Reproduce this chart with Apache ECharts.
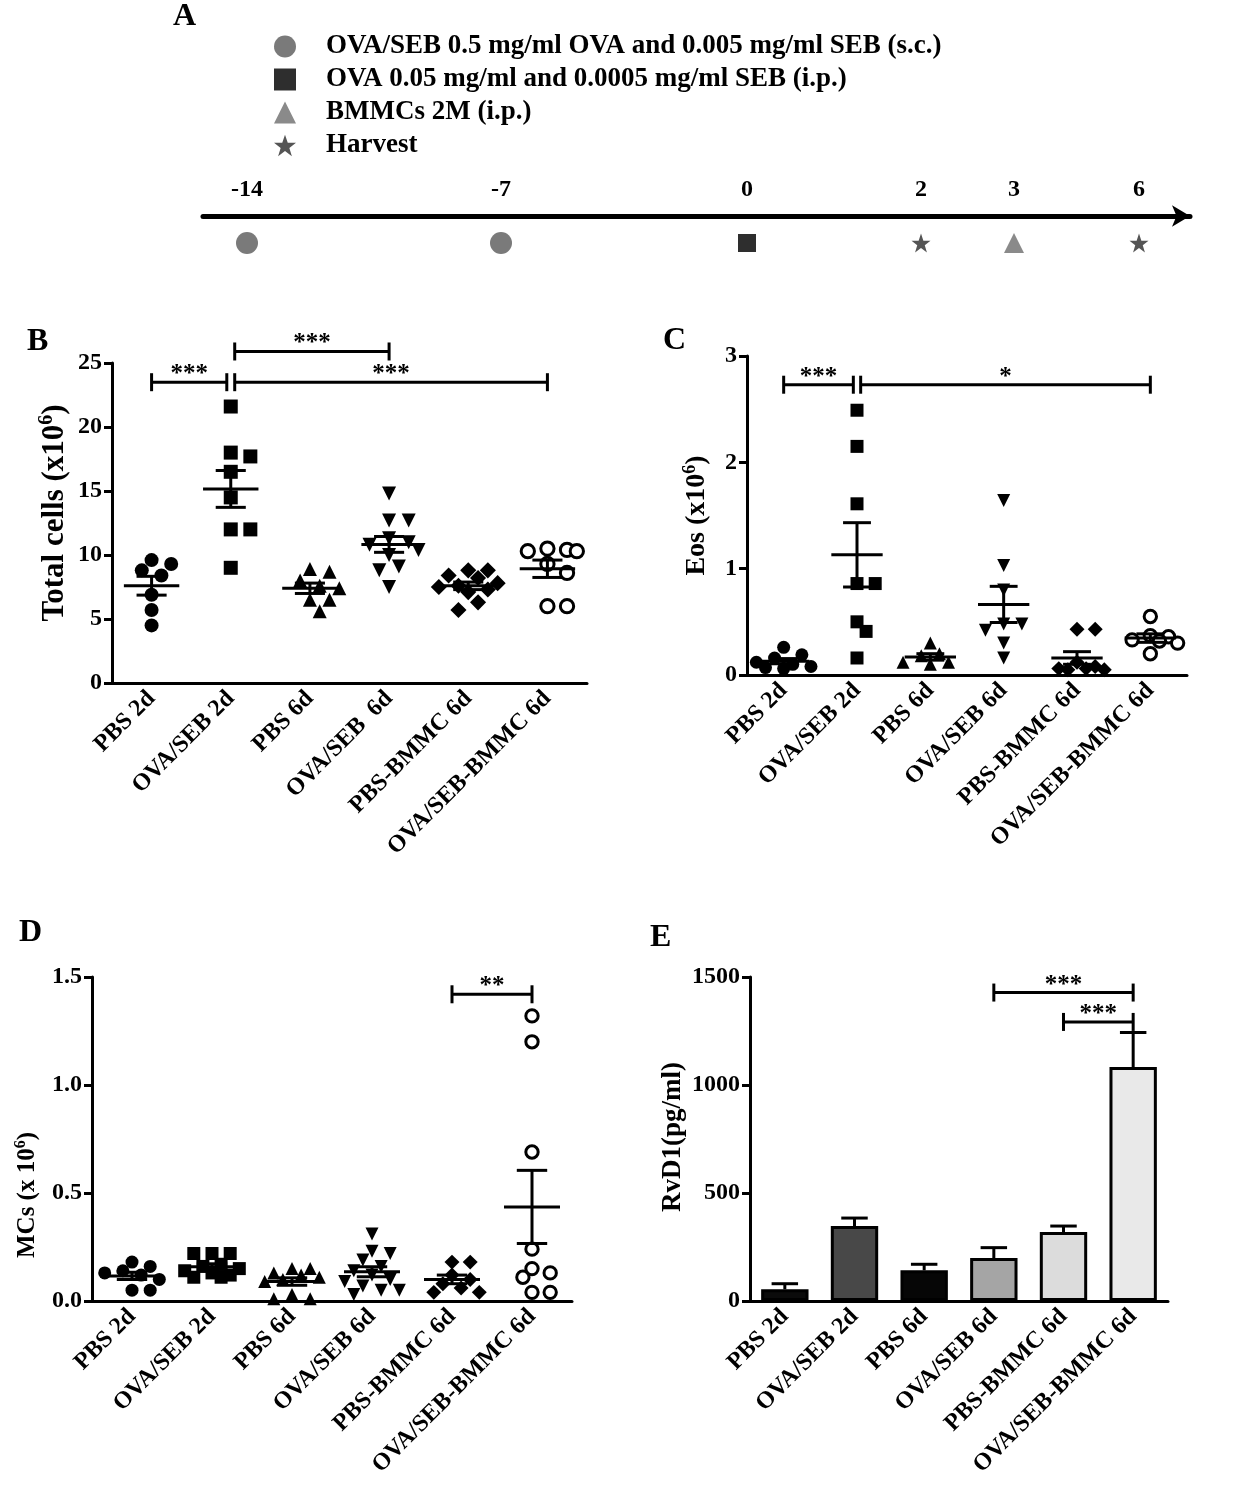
<!DOCTYPE html>
<html><head><meta charset="utf-8">
<script src="https://cdn.jsdelivr.net/npm/echarts@6/dist/echarts.min.js"></script>
<style>html,body{margin:0;padding:0;background:#fff}#c{width:1252px;height:1500px}</style>
</head><body><div id="c"></div>
<script>
// ---------------- DATA ----------------
const groups = ['PBS 2d', 'OVA/SEB 2d', 'PBS 6d', 'OVA/SEB 6d', 'PBS-BMMC 6d', 'OVA/SEB-BMMC 6d'];
const groupsB = ['PBS 2d', 'OVA/SEB 2d', 'PBS 6d', 'OVA/SEB  6d', 'PBS-BMMC 6d', 'OVA/SEB-BMMC 6d'];

// Panel B: Total cells (x10^6)
const totalPBS2d = [9.6, 9.3, 8.8, 8.4, 6.9, 5.7, 4.5];
const totalOVA2d = [21.6, 18.0, 17.7, 16.5, 14.5, 12.0, 12.0, 9.0];
const totalPBS6d = [8.9, 8.7, 8.0, 7.6, 7.4, 6.5, 6.5, 5.6];
const totalOVA6d = [14.8, 12.7, 12.7, 11.3, 11.0, 10.8, 10.4, 10.0, 9.1, 8.8, 7.5];
const totalPBSBMMC = [8.8, 8.8, 8.4, 8.2, 7.8, 7.6, 7.5, 7.3, 7.1, 6.3, 5.7];
const totalOVABMMC = [10.5, 10.4, 10.3, 10.3, 9.3, 8.6, 6.0, 6.0];

// Panel C: Eos (x10^6)
const eosPBS2d = [0.26, 0.19, 0.16, 0.12, 0.10, 0.08, 0.07, 0.06];
const eosOVA2d = [2.49, 2.15, 1.61, 0.86, 0.86, 0.50, 0.41, 0.16];
const eosPBS6d = [0.30, 0.20, 0.18, 0.12, 0.10, 0.12];
const eosOVA6d = [1.64, 1.03, 0.80, 0.48, 0.48, 0.42, 0.30, 0.16];
const eosPBSBMMC = [0.43, 0.43, 0.12, 0.08, 0.06, 0.05, 0.05, 0.06];
const eosOVABMMC = [0.55, 0.37, 0.36, 0.33, 0.32, 0.30, 0.20];

// Panel D: MCs (x10^6)
const mcsPBS2d = [0.18, 0.16, 0.14, 0.13, 0.12, 0.10, 0.05, 0.05];
const mcsOVA2d = [0.22, 0.22, 0.22, 0.17, 0.16, 0.15, 0.14, 0.13, 0.12, 0.11, 0.11];
const mcsPBS6d = [0.15, 0.15, 0.13, 0.12, 0.11, 0.10, 0.09, 0.03, 0.01, 0.01];
const mcsOVA6d = [0.31, 0.23, 0.22, 0.19, 0.16, 0.14, 0.12, 0.10, 0.09, 0.07, 0.05, 0.05, 0.03];
const mcsPBSBMMC = [0.18, 0.18, 0.12, 0.10, 0.08, 0.06, 0.04, 0.04];
const mcsOVABMMC = [1.32, 1.20, 0.69, 0.24, 0.15, 0.13, 0.11, 0.04, 0.04];

// Panel E: RvD1 (pg/ml), mean and SEM
const rvd1Mean = [54, 347, 142, 199, 319, 1083];
const rvd1Sem = [26, 37, 28, 48, 28, 160];
const rvd1Colors = ['#0b0b0b', '#484848', '#060606', '#a5a5a5', '#dcdcdc', '#e9e9e9'];

// Significance brackets
const bracketsB = [{from: 0, to: 1, y: 23.5, text: '***'}, {from: 1, to: 3, y: 25.9, text: '***'}, {from: 1, to: 5, y: 23.5, text: '***'}];
const bracketsC = [{from: 0, to: 1, y: 2.73, text: '***'}, {from: 1, to: 5, y: 2.73, text: '*'}];
const bracketsD = [{from: 4, to: 5, y: 1.42, text: '**'}];
const bracketsE = [{from: 3, to: 5, y: 1428, text: '***'}, {from: 4, to: 5, y: 1292, text: '***'}];

// Panel A: timeline
const timelineDays = [-14, -7, 0, 2, 3, 6];
const evOVASEB = 'OVA/SEB 0.5 mg/ml OVA and 0.005 mg/ml SEB (s.c.)';
const evOVAip = 'OVA 0.05 mg/ml and 0.0005 mg/ml SEB (i.p.)';
const evBMMC = 'BMMCs 2M (i.p.)';
const evHarvest = 'Harvest';
const daysOVASEB = [-14, -7];
const daysOVAip = [0];
const daysBMMC = [3];
const daysHarvest = [2, 6];

// ---------------- LAYOUT ----------------
const FONT = '"Liberation Serif", "Times New Roman", serif';
const G = {
  A: {left: 203, top: 216, width: 987, height: 54},
  B: {left: 112, top: 363, width: 475, height: 320},
  C: {left: 747, top: 356, width: 440, height: 319},
  D: {left: 92, top: 977, width: 480, height: 324},
  E: {left: 750, top: 977, width: 418, height: 324}
};
// schematic (non-proportional) placement of timeline days along the arrow, px from arrow start
const TL_PX = {'-14': 44, '-7': 298, '0': 544, '2': 718, '3': 811, '6': 936};
const tlPos = d => TL_PX[String(d)];

const STAR = 'path://M50,2 L62,37 L98,37 L69,59 L80,95 L50,73 L20,95 L31,59 L2,37 L38,37 Z';

function mean(a) { return a.reduce((s, v) => s + v, 0) / a.length; }
function sem(a) { const m = mean(a); const v = a.reduce((s, x) => s + (x - m) * (x - m), 0) / (a.length - 1); return Math.sqrt(v) / Math.sqrt(a.length); }

function swarm(vals, pxY, pxX, size) {
  const idx = vals.map((v, i) => i).sort((a, b) => vals[b] - vals[a]);
  const placed = []; const off = new Array(vals.length).fill(0);
  const step = size * 0.7;
  const cands = [0]; for (let k = 1; k <= 3; k++) { cands.push(k * step, -k * step); }
  for (const i of idx) {
    const y = vals[i] * pxY;
    let best = 0, bestD = -1;
    for (const c of cands) {
      let md = Infinity;
      for (const p of placed) { const d = Math.hypot(p.x - c, p.y - y); if (d < md) md = d; }
      if (md >= size * 0.95) { best = c; bestD = md; break; }
      if (md > bestD) { bestD = md; best = c; }
    }
    placed.push({x: best, y}); off[i] = best / pxX;
  }
  return off;
}

const xAxes = [], yAxes = [], series = [];

// nameShift: moves the rotated axis name along the axis (positive = down)
function yAxisFor(gridIndex, min, max, interval, name, nameGap, nameSize, nameShift, fmt) {
  const pad = nameShift >= 0 ? [0, 2 * nameShift, 0, 0] : [0, 0, 0, -2 * nameShift];
  return {type: 'value', gridIndex, min, max, interval, name, nameLocation: 'middle', nameGap, nameRotate: 90,
    nameTextStyle: {fontFamily: FONT, fontWeight: 'bold', fontSize: nameSize, color: '#000', lineHeight: nameSize + 4, padding: pad,
      rich: {s: {fontFamily: FONT, fontWeight: 'bold', fontSize: Math.round(nameSize * 0.64), color: '#000', verticalAlign: 'top', lineHeight: nameSize + 4}}},
    axisLine: {show: true, onZero: false, lineStyle: {color: '#000', width: 3}},
    axisTick: {show: true, length: 8, lineStyle: {color: '#000', width: 3}},
    axisLabel: {color: '#000', fontFamily: FONT, fontWeight: 'bold', fontSize: 24, margin: 10, formatter: fmt || (v => String(v))},
    splitLine: {show: false}};
}
function catAxis(gridIndex, labels) {
  return {type: 'category', gridIndex, data: labels, boundaryGap: true,
    axisLine: {onZero: false, lineStyle: {color: '#000', width: 3}},
    axisTick: {alignWithLabel: true, length: 9, lineStyle: {color: '#000', width: 3}},
    axisLabel: {interval: 0, rotate: 45, color: '#000', fontFamily: FONT, fontWeight: 'bold', fontSize: 24, margin: 12}};
}
function hiddenX(gridIndex) { return {type: 'value', gridIndex, min: -0.5, max: 5.5, show: false}; }

function meanSemSeries(xAxisIndex, yAxisIndex, arrays) {
  const data = arrays.map((vals, i) => [i, mean(vals), sem(vals)]);
  return {type: 'custom', xAxisIndex, yAxisIndex, data, z: 5, silent: true, encode: {x: 0, y: 1},
    renderItem(params, api) {
      const x = api.value(0), m = api.value(1), s = api.value(2);
      const c = api.coord([x, m]), t = api.coord([x, m + s]), b = api.coord([x, m - s]);
      const w = api.size([1, 0])[0];
      const st = {stroke: '#000', lineWidth: 3};
      return {type: 'group', children: [
        {type: 'line', shape: {x1: c[0] - 0.35 * w, y1: c[1], x2: c[0] + 0.35 * w, y2: c[1]}, style: st},
        {type: 'line', shape: {x1: t[0], y1: t[1], x2: b[0], y2: b[1]}, style: st},
        {type: 'line', shape: {x1: t[0] - 0.19 * w, y1: t[1], x2: t[0] + 0.19 * w, y2: t[1]}, style: st},
        {type: 'line', shape: {x1: b[0] - 0.19 * w, y1: b[1], x2: b[0] + 0.19 * w, y2: b[1]}, style: st}
      ]};
    }};
}

function bracketSeries(xAxisIndex, yAxisIndex, list) {
  const data = list.map(b => {
    let x1 = b.from, x2 = b.to;
    if (list.some(o => o !== b && o.from === b.to)) x2 -= 0.05;
    if (list.some(o => o !== b && o.to === b.from)) x1 += 0.05;
    return [x1, x2, b.y];
  });
  return {type: 'custom', xAxisIndex, yAxisIndex, data, z: 6, silent: true, clip: false, encode: {x: [0, 1], y: 2},
    renderItem(params, api) {
      const p1 = api.coord([api.value(0), api.value(2)]);
      const p2 = api.coord([api.value(1), api.value(2)]);
      const st = {stroke: '#000', lineWidth: 3};
      return {type: 'group', children: [
        {type: 'line', shape: {x1: p1[0], y1: p1[1], x2: p2[0], y2: p2[1]}, style: st},
        {type: 'line', shape: {x1: p1[0], y1: p1[1] - 9, x2: p1[0], y2: p1[1] + 9}, style: st},
        {type: 'line', shape: {x1: p2[0], y1: p2[1] - 9, x2: p2[0], y2: p2[1] + 9}, style: st},
        {type: 'text', x: (p1[0] + p2[0]) / 2, y: p1[1] + 5,
          style: {text: list[params.dataIndex].text, textAlign: 'center', textVerticalAlign: 'bottom',
            font: 'bold 25px ' + FONT, fill: '#000'}}
      ]};
    }};
}

const markerDefs = [
  {symbol: 'circle', color: '#000'},
  {symbol: 'rect', color: '#000'},
  {symbol: 'triangle', color: '#000'},
  {symbol: 'triangle', color: '#000', rotate: 180},
  {symbol: 'diamond', color: '#000', scale: 1.15},
  {symbol: 'circle', color: '#fff', border: true, scale: 0.95}
];

function scatterPanel(gridKey, gridIndex, catLabels, arrays, ymin, ymax, interval, yname, nameGap, nameSize, nameShift, fmt, size, brackets) {
  const g = G[gridKey];
  const catIdx = xAxes.length; xAxes.push(catAxis(gridIndex, catLabels));
  const valIdx = xAxes.length; xAxes.push(hiddenX(gridIndex));
  const yIdx = yAxes.length; yAxes.push(yAxisFor(gridIndex, ymin, ymax, interval, yname, nameGap, nameSize, nameShift, fmt));
  const pxY = g.height / (ymax - ymin), pxX = g.width / 6;
  arrays.forEach((vals, i) => {
    const m = markerDefs[i];
    const sz = size * (m.scale || 1);
    const off = swarm(vals, pxY, pxX, size);
    series.push({type: 'scatter', xAxisIndex: valIdx, yAxisIndex: yIdx, z: 3, silent: true,
      symbol: m.symbol, symbolRotate: m.rotate || 0, symbolSize: sz,
      itemStyle: m.border ? {color: '#fff', borderColor: '#000', borderWidth: 3, opacity: 1} : {color: m.color, opacity: 1},
      data: vals.map((v, j) => [i + off[j], v])});
  });
  series.push(meanSemSeries(valIdx, yIdx, arrays));
  series.push(bracketSeries(valIdx, yIdx, brackets));
}

// ---- Panel A (timeline) ----
xAxes.push({type: 'value', gridIndex: 0, min: 0, max: G.A.width, position: 'top',
  axisLine: {show: true, onZero: false, symbol: ['none', 'arrow'], symbolSize: [16, 18], lineStyle: {color: '#000', width: 5}},
  axisTick: {show: false}, splitLine: {show: false},
  axisLabel: {show: true, customValues: timelineDays.map(tlPos), showMinLabel: true, showMaxLabel: true,
    formatter: v => { const d = timelineDays.find(dd => tlPos(dd) === v); return d === undefined ? '' : String(d); },
    color: '#000', fontFamily: FONT, fontWeight: 'bold', fontSize: 24, margin: 14}});
yAxes.push({type: 'category', gridIndex: 0, data: ['t'], show: false});
const tlSeries = [
  {name: evOVASEB, days: daysOVASEB, symbol: 'circle', size: 22, color: '#7a7a7a'},
  {name: evOVAip, days: daysOVAip, symbol: 'rect', size: 18, color: '#2e2e2e'},
  {name: evBMMC, days: daysBMMC, symbol: 'triangle', size: 20, color: '#8a8a8a'},
  {name: evHarvest, days: daysHarvest, symbol: STAR, size: 19, color: '#555555'}
];
tlSeries.forEach(s => series.push({type: 'scatter', name: s.name, xAxisIndex: 0, yAxisIndex: 0, silent: true,
  symbol: s.symbol, symbolSize: s.size, itemStyle: {color: s.color, opacity: 1}, data: s.days.map(d => [tlPos(d), 't'])}));

// ---- Panels B, C, D ----
scatterPanel('B', 1, groupsB, [totalPBS2d, totalOVA2d, totalPBS6d, totalOVA6d, totalPBSBMMC, totalOVABMMC],
  0, 25, 5, 'Total cells (x10{s|6})', 40, 31, -10, null, 14, bracketsB);
scatterPanel('C', 2, groups, [eosPBS2d, eosOVA2d, eosPBS6d, eosOVA6d, eosPBSBMMC, eosOVABMMC],
  0, 3, 1, 'Eos (x10{s|6})', 34, 28, 0, null, 13, bracketsC);
scatterPanel('D', 3, groups, [mcsPBS2d, mcsOVA2d, mcsPBS6d, mcsOVA6d, mcsPBSBMMC, mcsOVABMMC],
  0, 1.5, 0.5, 'MCs (x 10{s|6})', 50, 25, 56, v => v.toFixed(1), 13, bracketsD);

// ---- Panel E (bars) ----
const eCat = xAxes.length; xAxes.push(catAxis(4, groups));
const eVal = xAxes.length; xAxes.push(hiddenX(4));
const eY = yAxes.length; yAxes.push(yAxisFor(4, 0, 1500, 500, 'RvD1(pg/ml)', 45, 27, -2, null));
series.push({type: 'bar', xAxisIndex: eCat, yAxisIndex: eY, barWidth: '68%', silent: true, z: 2,
  data: rvd1Mean.map((v, i) => ({value: v, itemStyle: {color: rvd1Colors[i], borderColor: '#000', borderWidth: 3}}))});
series.push({type: 'custom', xAxisIndex: eCat, yAxisIndex: eY, silent: true, z: 3,
  data: rvd1Mean.map((v, i) => [i, v, rvd1Sem[i]]), encode: {x: 0, y: 1},
  renderItem(params, api) {
    const i = api.value(0), m = api.value(1), s = api.value(2);
    const b = api.coord([i, m]), t = api.coord([i, m + s]);
    const w = api.size([1, 0])[0];
    const st = {stroke: '#000', lineWidth: 3};
    return {type: 'group', children: [
      {type: 'line', shape: {x1: b[0], y1: b[1], x2: t[0], y2: t[1]}, style: st},
      {type: 'line', shape: {x1: t[0] - 0.19 * w, y1: t[1], x2: t[0] + 0.19 * w, y2: t[1]}, style: st}
    ]};
  }});
series.push(bracketSeries(eVal, eY, bracketsE));

const titleStyle = {fontFamily: FONT, fontWeight: 'bold', fontSize: 32, color: '#000'};
const option = {
  animation: false,
  backgroundColor: '#fff',
  title: [
    {text: 'A', left: 173, top: 1, padding: 0, textStyle: titleStyle},
    {text: 'B', left: 27, top: 326, padding: 0, textStyle: titleStyle},
    {text: 'C', left: 663, top: 325, padding: 0, textStyle: titleStyle},
    {text: 'D', left: 19, top: 917, padding: 0, textStyle: titleStyle},
    {text: 'E', left: 650, top: 922, padding: 0, textStyle: titleStyle}
  ],
  legend: {orient: 'vertical', left: 269, top: 28, itemWidth: 22, itemHeight: 22, itemGap: 6, selectedMode: false,
    data: [{name: evOVASEB, icon: 'circle'}, {name: evOVAip, icon: 'rect'}, {name: evBMMC, icon: 'triangle'}, {name: evHarvest, icon: STAR}],
    textStyle: {fontFamily: FONT, fontWeight: 'bold', fontSize: 27, color: '#000', lineHeight: 22, padding: [0, 0, 0, 25]}},
  grid: [G.A, G.B, G.C, G.D, G.E].map(g => Object.assign({containLabel: false}, g)),
  xAxis: xAxes,
  yAxis: yAxes,
  series
};
const chart = echarts.init(document.getElementById('c'), null, {renderer: 'canvas', width: 1252, height: 1500});
chart.setOption(option);
</script>
</body></html>
